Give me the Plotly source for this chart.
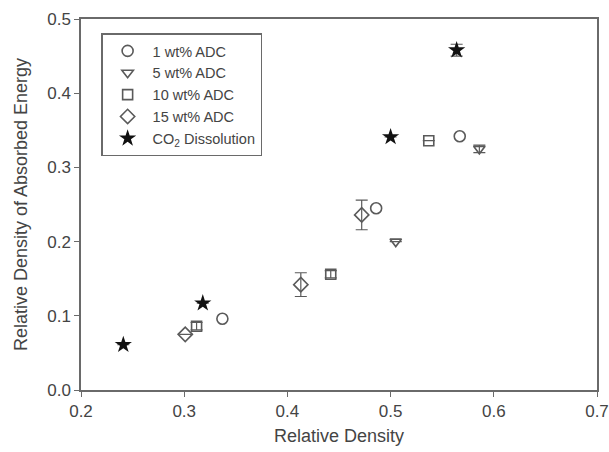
import plotly.graph_objects as go

# Data
adc1_x = [0.337, 0.486, 0.567]
adc1_y = [0.096, 0.245, 0.342]

adc5_x = [0.505, 0.586]
adc5_y = [0.200, 0.325]
adc5_err = [0.0, 0.005]

adc10_x = [0.312, 0.442, 0.537]
adc10_y = [0.086, 0.156, 0.336]
adc10_err = [0.005, 0.005, 0.0]

adc15_x = [0.301, 0.413, 0.472]
adc15_y = [0.075, 0.142, 0.236]
adc15_err = [0.0, 0.016, 0.020]

co2_x = [0.241, 0.318, 0.500, 0.564]
co2_y = [0.061, 0.117, 0.341, 0.458]
co2_err = [0.0, 0.0, 0.0, 0.008]

gray = "#5a5a5a"
font_family = "Liberation Sans, Arial, sans-serif"
err_style = dict(type="data", visible=True, color=gray, thickness=1.2, width=6)

fig = go.Figure()
fig.add_trace(go.Scatter(x=adc1_x, y=adc1_y, mode="markers", name="1 wt% ADC",
                         marker=dict(symbol="circle-open", size=11, color=gray, line=dict(width=1.6))))
fig.add_trace(go.Scatter(x=adc5_x, y=adc5_y, mode="markers", name="5 wt% ADC",
                         error_y=dict(array=adc5_err, **err_style),
                         marker=dict(symbol="triangle-down-open", size=10, color=gray, line=dict(width=1.6))))
fig.add_trace(go.Scatter(x=adc10_x, y=adc10_y, mode="markers", name="10 wt% ADC",
                         error_y=dict(array=adc10_err, **err_style),
                         marker=dict(symbol="square-open", size=10, color=gray, line=dict(width=1.6))))
fig.add_trace(go.Scatter(x=adc15_x, y=adc15_y, mode="markers", name="15 wt% ADC",
                         error_y=dict(array=adc15_err, **err_style),
                         marker=dict(symbol="diamond-open", size=11, color=gray, line=dict(width=1.6))))
fig.add_trace(go.Scatter(x=co2_x, y=co2_y, mode="markers", name="CO<sub>2</sub> Dissolution",
                         error_y=dict(array=co2_err, **err_style),
                         marker=dict(symbol="star", size=13, color="#111111", line=dict(width=0))))

axis_common = dict(showline=True, linecolor="#6a6a6a", linewidth=1.5, mirror=True,
                   ticks="outside", ticklen=5, tickcolor="#6a6a6a", tickwidth=1.2,
                   showgrid=False, zeroline=False, automargin=False,
                   tickfont=dict(family=font_family, size=17, color="#444444"))

fig.update_xaxes(range=[0.2, 0.7], tickvals=[0.2, 0.3, 0.4, 0.5, 0.6, 0.7],
                 ticktext=["0.2", "0.3", "0.4", "0.5", "0.6", "0.7"],
                 title=dict(text="Relative Density", standoff=9,
                            font=dict(family=font_family, size=18, color="#444444")),
                 **axis_common)
fig.update_yaxes(range=[0.0, 0.5], tickvals=[0.0, 0.1, 0.2, 0.3, 0.4, 0.5],
                 ticktext=["0.0", "0.1", "0.2", "0.3", "0.4", "0.5"],
                 title=dict(text="Relative Density of Absorbed Energy", standoff=15,
                            font=dict(family=font_family, size=18, color="#444444")),
                 **axis_common)

fig.update_layout(
    width=609, height=452,
    margin=dict(l=81, r=12, t=19, b=62, autoexpand=False),
    paper_bgcolor="white", plot_bgcolor="white",
    showlegend=True,
    legend=dict(x=0.039, y=0.961, xanchor="left", yanchor="top",
                bordercolor="#6a6a6a", borderwidth=1.5, bgcolor="white",
                font=dict(family=font_family, size=14.5, color="#444444"),
                tracegroupgap=0, itemwidth=40),
)

fig.write_html("out.html")
